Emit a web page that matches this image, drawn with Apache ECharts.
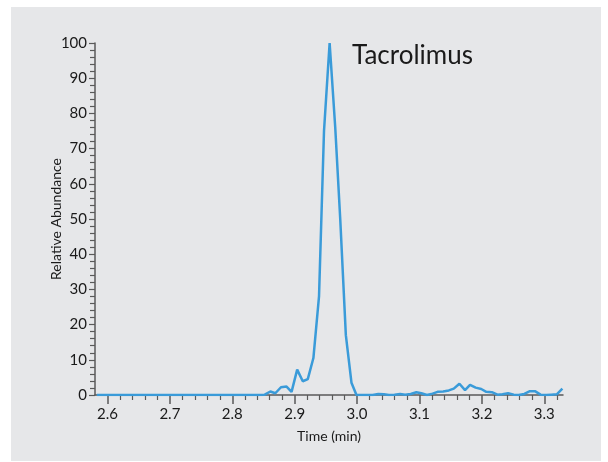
<!DOCTYPE html>
<html>
<head>
<meta charset="utf-8">
<script src="https://cdn.jsdelivr.net/npm/echarts@6/dist/echarts.min.js"></script>
<style>
html,body{margin:0;padding:0;background:#ffffff;}
#c{width:608px;height:462px;}
</style>
</head>
<body>
<div id="c"></div>
<script>
// Chart data
var chartTitle = 'Tacrolimus';
var xAxisName = 'Time (min)';
var yAxisName = 'Relative Abundance';
var times = [
  2.583, 2.592, 2.601, 2.609, 2.618, 2.627, 2.635, 2.644, 2.653, 2.661,
  2.670, 2.679, 2.687, 2.696, 2.705, 2.713, 2.722, 2.731, 2.739, 2.748,
  2.757, 2.765, 2.774, 2.783, 2.791, 2.800, 2.809, 2.817, 2.826, 2.835,
  2.843, 2.852, 2.861, 2.869, 2.878, 2.887, 2.895, 2.904, 2.913, 2.921,
  2.930, 2.939, 2.947, 2.956, 2.965, 2.973, 2.982, 2.991, 2.999, 3.008,
  3.017, 3.025, 3.034, 3.043, 3.051, 3.060, 3.069, 3.077, 3.086, 3.095,
  3.103, 3.112, 3.121, 3.129, 3.138, 3.147, 3.155, 3.164, 3.173, 3.181,
  3.190, 3.199, 3.207, 3.216, 3.225, 3.233, 3.242, 3.251, 3.259, 3.268,
  3.277, 3.285, 3.294, 3.303, 3.311, 3.320, 3.329
];
var abundance = [
  0, 0, 0, 0, 0, 0, 0, 0, 0, 0,
  0, 0, 0, 0, 0, 0, 0, 0, 0, 0,
  0, 0, 0, 0, 0, 0, 0, 0, 0, 0,
  0, 0.1, 1.0, 0.5, 2.2, 2.4, 0.9, 7.2, 3.9, 4.5,
  10.5, 28, 75, 100, 76, 50, 17, 3.5, 0, 0,
  0, 0, 0.3, 0.2, 0, 0.1, 0.3, 0.1, 0.3, 0.8,
  0.5, 0, 0.4, 0.9, 1.0, 1.3, 1.8, 3.2, 1.4, 2.9,
  2.1, 1.7, 0.9, 0.8, 0.1, 0.2, 0.5, 0.1, 0, 0.3,
  1.1, 1.1, 0.1, 0, 0.1, 0.2, 1.8
];
var xMajorTicks = [2.6, 2.7, 2.8, 2.9, 3.0, 3.1, 3.2, 3.3];
var xMinorTicks = [2.62, 2.64, 2.66, 2.68, 2.72, 2.74, 2.76, 2.78, 2.82, 2.84, 2.86, 2.88,
  2.92, 2.94, 2.96, 2.98, 3.02, 3.04, 3.06, 3.08, 3.12, 3.14, 3.16, 3.18,
  3.22, 3.24, 3.26, 3.28, 3.32];
var xMin = 2.58, xMax = 3.33;
var yMin = 0, yMax = 100, yStep = 10;

var seriesData = times.map(function (t, i) { return [t, abundance[i]]; });

var FONT = 'Lato, "Open Sans", sans-serif';
var AXIS_COLOR = '#5a5a5a';
var TEXT_COLOR = '#1a1a1a';

var chart = echarts.init(document.getElementById('c'), null, {renderer: 'canvas'});
chart.setOption({
  backgroundColor: '#ffffff',
  animation: false,
  graphic: [{
    type: 'rect', z: -10, silent: true,
    shape: {x: 11, y: 7, width: 590, height: 454},
    style: {fill: '#e6e7e9'}
  }],
  title: {
    text: chartTitle, left: 347, top: 38,
    textStyle: {fontFamily: FONT, fontSize: 26, fontWeight: 'normal', color: TEXT_COLOR}
  },
  grid: {left: 95, right: 45, top: 43, bottom: 67, containLabel: false},
  xAxis: [{
    type: 'value', min: xMin, max: xMax,
    name: xAxisName, nameLocation: 'middle', nameGap: 34, nameMoveOverlap: false,
    nameTextStyle: {fontFamily: FONT, fontSize: 14, color: TEXT_COLOR},
    axisLine: {show: true, onZero: false, lineStyle: {color: AXIS_COLOR, width: 1.5}},
    axisTick: {show: true, length: 9, customValues: xMajorTicks, lineStyle: {color: AXIS_COLOR, width: 1.5}},
    axisLabel: {show: true, customValues: xMajorTicks, margin: 12,
      fontFamily: FONT, fontSize: 15, color: TEXT_COLOR,
      formatter: function (v) { return v.toFixed(1); }},
    splitLine: {show: false}
  }, {
    type: 'value', min: xMin, max: xMax, position: 'bottom',
    axisLine: {show: false, onZero: false},
    axisTick: {show: true, length: 5, customValues: xMinorTicks, lineStyle: {color: AXIS_COLOR, width: 1.2}},
    axisLabel: {show: false},
    splitLine: {show: false}
  }],
  yAxis: [{
    type: 'value', min: yMin, max: yMax, interval: yStep,
    name: yAxisName, nameLocation: 'middle', nameGap: 32, nameRotate: 90, nameMoveOverlap: false,
    nameTextStyle: {fontFamily: FONT, fontSize: 14, color: TEXT_COLOR},
    axisLine: {show: true, onZero: false, lineStyle: {color: AXIS_COLOR, width: 1.5}},
    axisTick: {show: true, length: 6, lineStyle: {color: AXIS_COLOR, width: 1.2}},
    minorTick: {show: true, splitNumber: 5, length: 5, lineStyle: {color: AXIS_COLOR, width: 1.2}},
    axisLabel: {show: true, margin: 8, fontFamily: FONT, fontSize: 15, color: TEXT_COLOR},
    splitLine: {show: false}
  }],
  series: [{
    type: 'line', xAxisIndex: 0, yAxisIndex: 0,
    data: seriesData, showSymbol: false, symbol: 'none',
    lineStyle: {color: '#3a9bd9', width: 2.5},
    z: 3
  }]
});
</script>
</body>
</html>
